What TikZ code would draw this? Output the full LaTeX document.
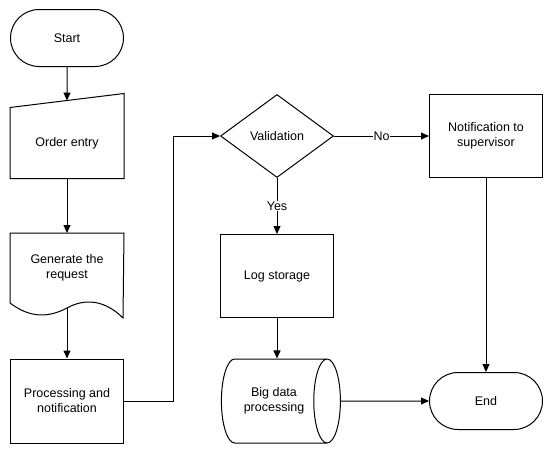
\documentclass[tikz,border=0pt]{standalone}
\usepackage{fontspec}
\setmainfont{Liberation Sans}
\usetikzlibrary{arrows.meta,positioning,shapes.geometric,shapes.misc}

\begin{document}
\begin{tikzpicture}[x=1pt,y=-1pt,line width=1pt,>={Triangle[length=8pt,width=7pt]},
  font=\fontsize{12.5}{15}\selectfont,
  term node/.style={rounded rectangle,draw,minimum width=113pt,minimum height=57pt,inner sep=0pt},
  box node/.style={rectangle,draw,minimum width=113pt,minimum height=84pt,align=center,inner sep=0pt},
  plain node/.style={rectangle,minimum width=113pt,align=center,inner sep=0pt},
  test node/.style={diamond,draw,minimum width=113pt,minimum height=83pt,inner sep=0pt},
  store node/.style={cylinder,draw,minimum width=84pt,minimum height=119pt,aspect=1,align=center,inner sep=0pt},
  edge label/.style={fill=white,inner sep=1pt}]

  \useasboundingbox (0,0) rectangle (550,453);

  % left column
  \node[term node] (S) at (67,38) {Start};
  \node[plain node,minimum height=70pt] (O) at (67,143) {Order entry};
  \node[plain node,minimum height=69pt] (G) at (67,268) {Generate the\\request};
  \node[box node] (P) at (67,401) {Processing and\\notification};
  \coordinate (Gb) at (67,308);

  % right part
  \node[test node] (V) at (277,136) {Validation};
  \node[box node,minimum height=83pt] (N) at (486,136) {Notification to\\supervisor};
  \node[box node,minimum height=83pt] (L) at (277,276) {Log storage};
  \node[store node] (B) at (274,401) {Big data\\processing};
  \node[term node] (E) at (486,401) {End};

  % manual input and document outlines
  \draw (O.south west) -- (O.south east) -- ([yshift=14pt]O.north east) -- (O.north west) -- cycle;
  \draw (G.south west) -- (G.north west) -- (G.north east) -- (123,318)
    .. controls (105,300) and (85,298) .. (67,308)
    .. controls (48,318) and (30,318) .. (G.south west);

  % connectors
  \draw[->] (S) -- ([yshift=7pt]O.north);
  \path[->]
    (O) edge (G)
    (Gb) edge (P)
    (V) edge node[edge label] {No} (N)
    (V) edge node[edge label] {Yes} (L)
    (L) edge (L |- B.north)
    (B) edge (E)
    (N) edge (E);
  \draw[->] (P.east) -- ++(49,0) |- (V.west);
\end{tikzpicture}
\end{document}
